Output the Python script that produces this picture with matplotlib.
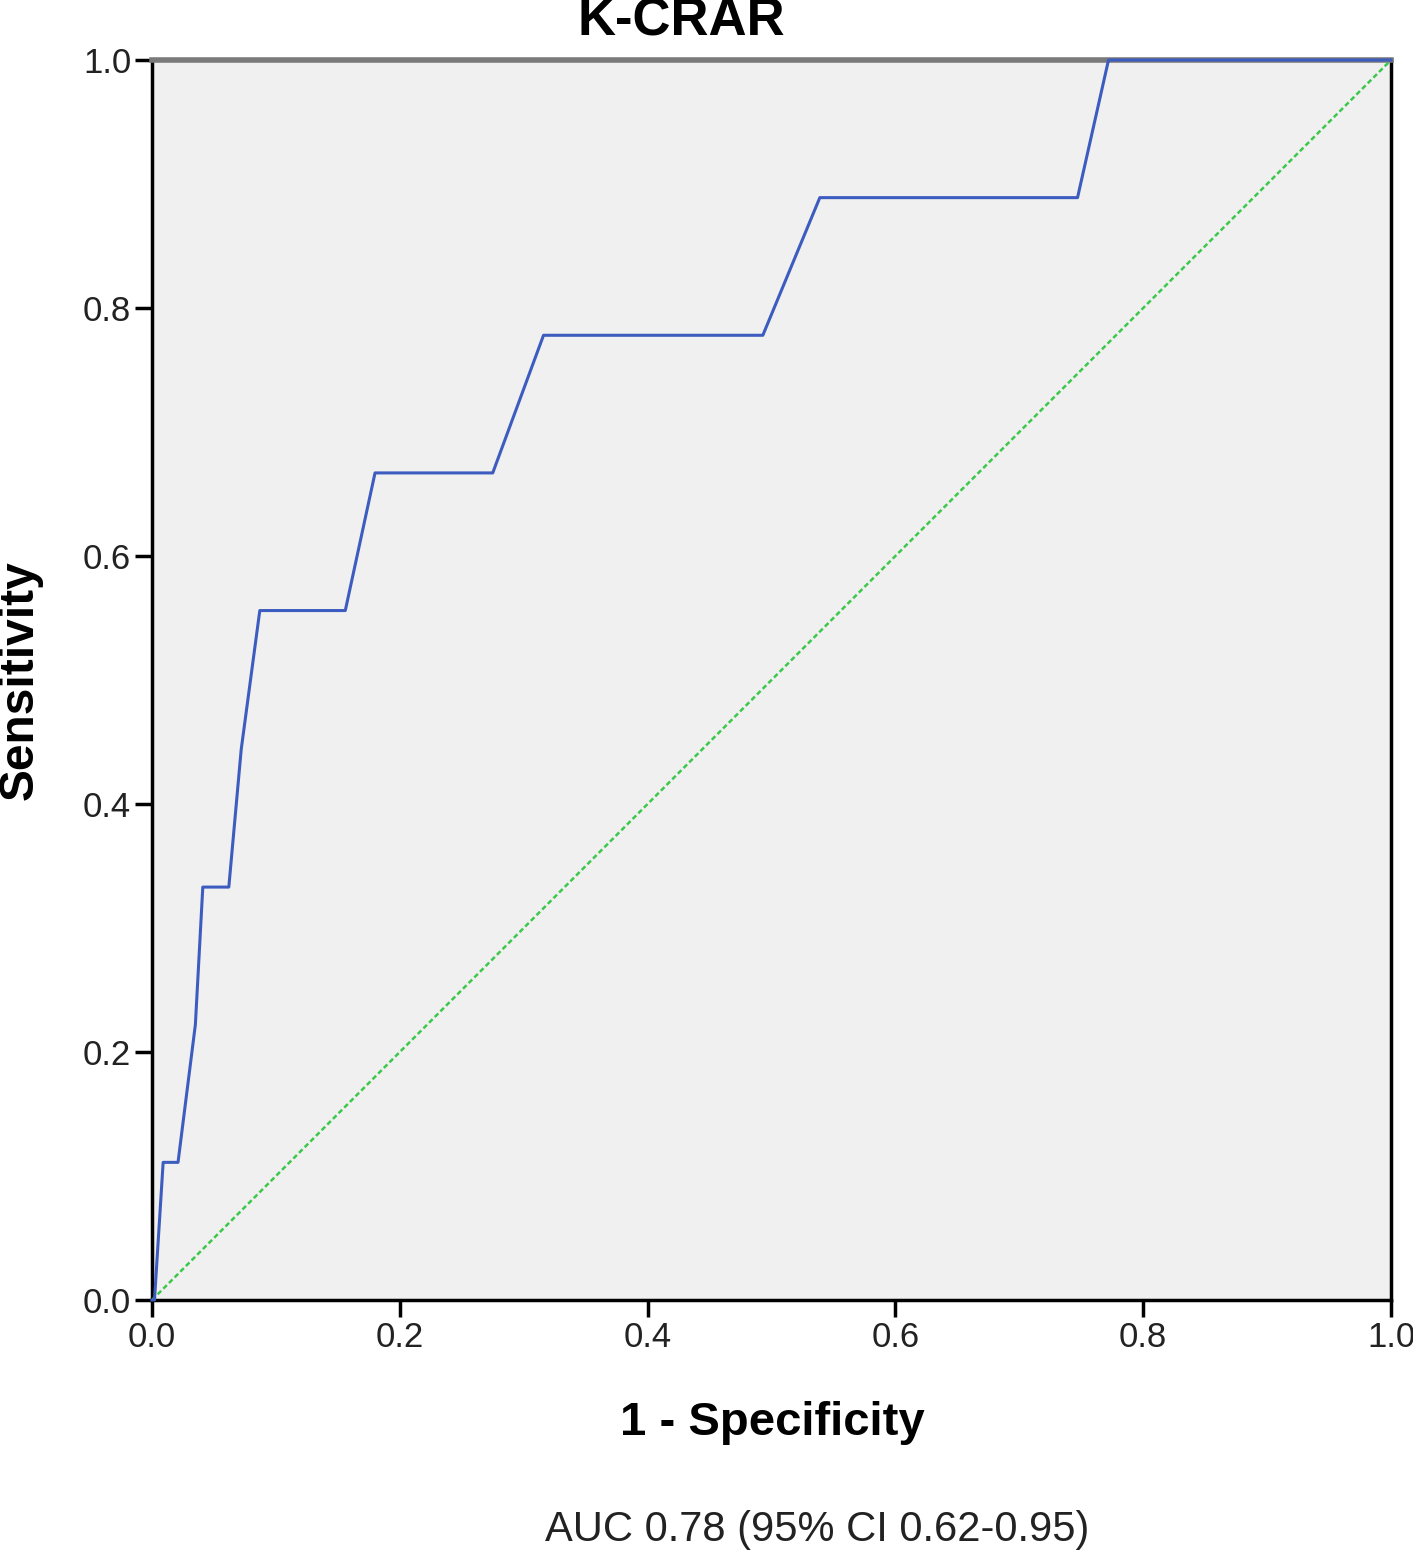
import matplotlib.pyplot as plt

plt.rcParams['font.family'] = ['Liberation Sans', 'DejaVu Sans']

# ROC curve points
fpr = [0.0, 0.002, 0.009, 0.021, 0.035, 0.041, 0.062, 0.072, 0.087, 0.156,
       0.180, 0.275, 0.316, 0.493, 0.539, 0.747, 0.772, 1.0]
tpr = [0.0, 0.0, 0.111, 0.111, 0.222, 0.333, 0.333, 0.444, 0.556, 0.556,
       0.667, 0.667, 0.778, 0.778, 0.889, 0.889, 1.0, 1.0]
ref_line = [0.0, 1.0]
ticks = [0.0, 0.2, 0.4, 0.6, 0.8, 1.0]
tick_labels = ["0.0", "0.2", "0.4", "0.6", "0.8", "1.0"]

fig = plt.figure(figsize=(14.13, 15.56), dpi=100)
ax = fig.add_axes([152 / 1413, 1 - 1300 / 1556, 1239 / 1413, 1240 / 1556])
ax.set_facecolor('#f0f0f0')

ax.plot(ref_line, ref_line, color='#3cc84a', lw=1.8, ls=(0, (2, 1.2)), zorder=3)
ax.plot(fpr, tpr, color='#3d5cbf', lw=2.2, zorder=4, clip_on=False)

ax.set_xlim(0, 1)
ax.set_ylim(0, 1)
ax.set_xticks(ticks)
ax.set_xticklabels(tick_labels)
ax.set_yticks(ticks)
ax.set_yticklabels(tick_labels)
ax.tick_params(direction='out', length=12, width=2.5, labelsize=25, pad=3,
               colors='black', labelcolor='#222222')

for side in ['left', 'bottom', 'right']:
    ax.spines[side].set_linewidth(2.5)
    ax.spines[side].set_color('black')
ax.spines['top'].set_linewidth(4)
ax.spines['top'].set_color('#7a7a7a')

fig.text(681 / 1413, 1 - 22 / 1556, 'K-CRAR', ha='center', va='center',
         fontsize=38, fontweight='bold')
fig.text(772 / 1413, 1 - 1423 / 1556, '1 - Specificity', ha='center', va='center',
         fontsize=34, fontweight='bold')
fig.text(20 / 1413, 1 - 680 / 1556, 'Sensitivity', ha='center', va='center',
         fontsize=34.5, fontweight='bold', rotation=90)
fig.text(817 / 1413, 1 - 1530 / 1556, 'AUC 0.78 (95% CI 0.62-0.95)', ha='center',
         va='center', fontsize=30, color='#222222')

fig.savefig('out.png', dpi=100)
